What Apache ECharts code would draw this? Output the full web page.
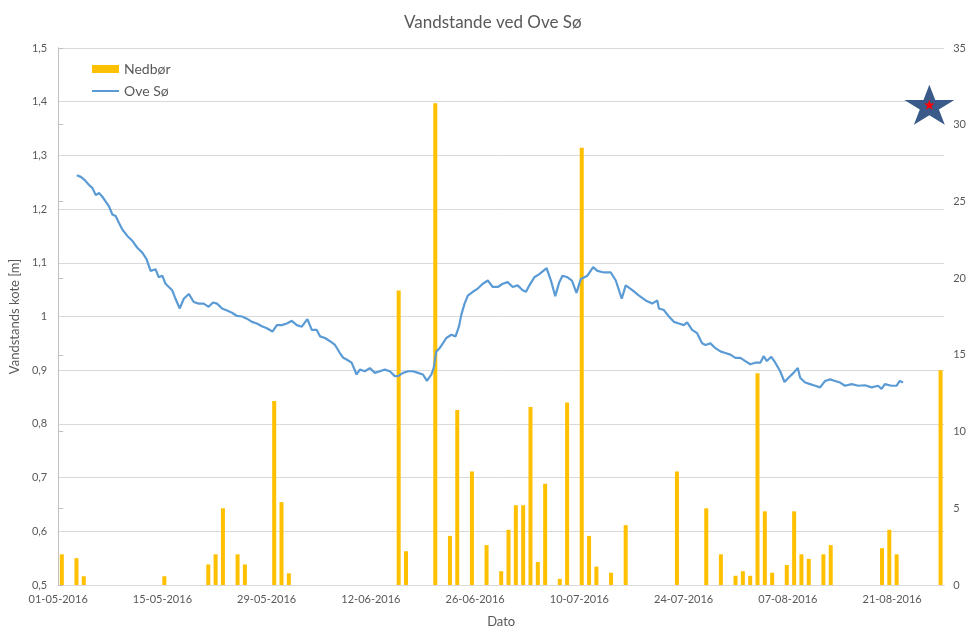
<!DOCTYPE html>
<html>
<head>
<meta charset="utf-8">
<script src="https://cdn.jsdelivr.net/npm/echarts@6/dist/echarts.min.js"></script>
<style>
  html, body { margin: 0; padding: 0; background: #fff; }
  #chart { width: 969px; height: 633px; }
</style>
</head>
<body>
<div id="chart"></div>
<script>
// x labels every 14 days, day 0 = 01-05-2016
const xTickLabels = ["01-05-2016", "15-05-2016", "29-05-2016", "12-06-2016", "26-06-2016", "10-07-2016", "24-07-2016", "07-08-2016", "21-08-2016"]
const leftTickLabels = ["0,5", "0,6", "0,7", "0,8", "0,9", "1", "1,1", "1,2", "1,3", "1,4", "1,5"]

// Nedbør (mm) - day index after 01-05-2016
const rainDay = [0, 2, 3, 14, 20, 21, 22, 24, 25, 29, 30, 31, 46, 47, 51, 53, 54, 56, 58, 60, 61, 62, 63, 64, 65, 66, 68, 69, 71, 72, 73, 75, 77, 84, 88, 90, 92, 93, 94, 95, 96, 97, 99, 100, 101, 102, 104, 105, 112, 113, 114, 120]
const rainMm = [2.0, 1.75, 0.57, 0.57, 1.34, 2.0, 5.0, 2.0, 1.34, 12.0, 5.4, 0.76, 19.2, 2.2, 31.4, 3.2, 11.4, 7.4, 2.6, 0.9, 3.6, 5.2, 5.2, 11.6, 1.5, 6.6, 0.4, 11.9, 28.5, 3.2, 1.2, 0.8, 3.9, 7.4, 5.0, 2.0, 0.6, 0.9, 0.6, 13.8, 4.8, 0.8, 1.3, 4.8, 2.0, 1.7, 2.0, 2.6, 2.4, 3.6, 2.0, 14.0]

// Ove Sø vandstand (m) - fractional days after 01-05-2016
const oveDay = [2.50, 3.04, 3.58, 4.15, 4.61, 5.05, 5.49, 5.94, 6.39, 6.83, 7.28, 7.72, 8.17, 8.62, 9.29, 9.96, 10.63, 11.30, 11.87, 12.41, 13.08, 13.52, 13.98, 14.42, 14.86, 15.31, 15.76, 16.33, 16.87, 17.54, 18.21, 18.88, 19.54, 20.21, 20.80, 21.34, 22.01, 22.68, 23.35, 24.02, 24.69, 25.35, 26.02, 26.69, 27.36, 28.03, 28.78, 29.37, 30.04, 30.71, 31.38, 32.05, 32.72, 33.47, 34.06, 34.73, 35.17, 35.84, 36.51, 37.18, 37.84, 38.29, 38.74, 39.41, 40.08, 40.52, 41.19, 41.86, 42.53, 43.20, 43.87, 44.54, 45.21, 45.65, 46.32, 46.99, 47.66, 48.33, 48.99, 49.53, 50.12, 50.43, 50.79, 51.23, 51.67, 52.13, 52.80, 53.37, 53.82, 54.14, 54.58, 55.02, 55.69, 56.36, 57.03, 57.70, 58.37, 59.04, 59.71, 60.37, 61.04, 61.71, 62.38, 62.84, 63.28, 63.95, 64.62, 65.60, 66.18, 66.76, 67.30, 67.74, 68.41, 69.00, 69.61, 70.20, 71.08, 71.85, 72.42, 73.32, 74.22, 74.89, 75.69, 76.22, 77.11, 78.01, 78.90, 79.79, 80.46, 80.68, 81.35, 82.02, 82.69, 83.36, 84.03, 84.47, 85.14, 85.81, 86.48, 86.93, 87.60, 88.27, 88.94, 89.61, 90.28, 90.95, 91.62, 92.29, 92.96, 93.63, 94.30, 94.74, 95.18, 95.77, 96.31, 96.97, 97.55, 98.09, 98.76, 99.33, 99.65, 100.32, 100.99, 101.66, 102.33, 103.00, 103.67, 104.34, 105.01, 105.68, 106.56, 107.46, 108.35, 109.24, 110.13, 110.58, 111.03, 111.91, 112.58, 113.03, 113.47]
const oveLevel = [1.263, 1.260, 1.254, 1.245, 1.239, 1.226, 1.230, 1.223, 1.214, 1.205, 1.190, 1.187, 1.174, 1.162, 1.150, 1.141, 1.128, 1.119, 1.107, 1.085, 1.088, 1.073, 1.076, 1.061, 1.055, 1.049, 1.033, 1.015, 1.033, 1.042, 1.027, 1.024, 1.024, 1.018, 1.026, 1.024, 1.015, 1.011, 1.007, 1.001, 1.000, 0.996, 0.990, 0.987, 0.982, 0.978, 0.972, 0.984, 0.984, 0.987, 0.992, 0.984, 0.981, 0.995, 0.975, 0.975, 0.963, 0.960, 0.954, 0.947, 0.932, 0.923, 0.920, 0.914, 0.892, 0.901, 0.898, 0.904, 0.895, 0.898, 0.901, 0.898, 0.889, 0.889, 0.895, 0.898, 0.898, 0.895, 0.892, 0.880, 0.892, 0.904, 0.935, 0.941, 0.950, 0.960, 0.966, 0.963, 0.981, 1.003, 1.024, 1.039, 1.046, 1.052, 1.061, 1.067, 1.055, 1.055, 1.061, 1.064, 1.055, 1.058, 1.049, 1.046, 1.058, 1.073, 1.079, 1.090, 1.067, 1.038, 1.064, 1.076, 1.073, 1.067, 1.044, 1.070, 1.076, 1.092, 1.085, 1.082, 1.082, 1.067, 1.033, 1.058, 1.049, 1.039, 1.030, 1.024, 1.030, 1.015, 1.012, 1.000, 0.990, 0.987, 0.984, 0.989, 0.975, 0.969, 0.950, 0.947, 0.950, 0.941, 0.935, 0.932, 0.929, 0.923, 0.923, 0.917, 0.911, 0.914, 0.914, 0.926, 0.917, 0.925, 0.914, 0.898, 0.878, 0.886, 0.895, 0.904, 0.886, 0.877, 0.874, 0.871, 0.868, 0.880, 0.883, 0.880, 0.877, 0.871, 0.874, 0.871, 0.872, 0.868, 0.871, 0.865, 0.874, 0.871, 0.871, 0.880, 0.877]

// star marker (day, mm on right axis)
const starAt = [117, 31.3]

const textColor = "#595959"
const fontFamily = "Lato, 'Noto Sans', sans-serif"
const starPath = "path://M50 0 L61.23 34.55 L97.55 34.55 L68.17 55.9 L79.39 90.45 L50 69.1 L20.61 90.45 L31.83 55.9 L2.45 34.55 L38.77 34.55 Z"

const chart = echarts.init(document.getElementById("chart"), null, { renderer: "canvas" })

const option = {
  animation: false,
  textStyle: { fontFamily: fontFamily },
  title: {
    text: "Vandstande ved Ove Sø",
    left: 399,
    top: 9,
    textStyle: { color: textColor, fontSize: 17, fontWeight: "normal", fontFamily: fontFamily }
  },
  legend: {
    data: [
      { name: "Nedbør", icon: "rect" },
      { name: "Ove Sø", itemStyle: { opacity: 0 } }
    ],
    orient: "vertical",
    left: 86,
    top: 57,
    itemWidth: 27,
    itemHeight: 8,
    itemGap: 8,
    textStyle: { color: textColor, fontSize: 14, fontFamily: fontFamily }
  },
  grid: {
    left: 57,
    right: 22,
    top: 48,
    bottom: 41.5,
    containLabel: false
  },
  xAxis: [
    {
      type: "value",
      min: 0,
      max: 119,
      interval: 14,
      name: "Dato",
      nameLocation: "middle",
      nameGap: 30,
      nameTextStyle: { color: textColor, fontSize: 13 },
      axisLine: { show: true, lineStyle: { color: "#d9d9d9" } },
      axisTick: { show: false },
      splitLine: { show: false },
      axisLabel: {
        color: textColor,
        fontSize: 11,
        margin: 9,
        showMaxLabel: false,
        formatter: function (v) {
          const i = v / 14
          return Number.isInteger(i) && xTickLabels[i] ? xTickLabels[i] : ""
        }
      }
    },
    {
      // one slot per day for the rain bars
      type: "value",
      min: 0,
      max: 121,
      show: false
    }
  ],
  yAxis: [
    {
      type: "value",
      min: 0.5,
      max: 1.5,
      interval: 0.1,
      name: "Vandstands kote [m]",
      nameLocation: "middle",
      nameGap: 31,
      nameTextStyle: { color: textColor, fontSize: 13 },
      axisLine: { show: true, lineStyle: { color: "#d9d9d9" } },
      axisTick: { show: false },
      splitLine: { lineStyle: { color: "#d9d9d9" } },
      axisLabel: {
        color: textColor,
        fontSize: 11,
        margin: 11,
        formatter: function (v) {
          return leftTickLabels[Math.round((v - 0.5) * 10)]
        }
      }
    },
    {
      type: "value",
      min: 0,
      max: 35,
      interval: 5,
      position: "right",
      axisLine: { show: true, lineStyle: { color: "#bfbfbf" } },
      axisTick: { show: true, length: 5, lineStyle: { color: "#bfbfbf" } },
      splitLine: { show: false },
      axisLabel: { color: textColor, fontSize: 11, margin: 9 }
    }
  ],
  series: [
    {
      name: "Ove Sø",
      type: "line",
      xAxisIndex: 0,
      yAxisIndex: 0,
      symbol: "none",
      color: "#5b9bd5",
      lineStyle: { width: 2.2, color: "#5b9bd5" },
      data: oveDay.map((d, i) => [d, oveLevel[i]])
    },
    {
      name: "Nedbør",
      type: "bar",
      xAxisIndex: 1,
      yAxisIndex: 1,
      barWidth: 4,
      color: "#ffc000",
      itemStyle: { color: "#ffc000" },
      data: rainDay.map((d, i) => [d + 0.5, rainMm[i]])
    },
    {
      name: "star",
      type: "scatter",
      xAxisIndex: 0,
      yAxisIndex: 1,
      silent: true,
      z: 5,
      data: [
        { value: starAt, symbol: starPath, symbolSize: [50, 40], itemStyle: { color: "#3a5b8a", opacity: 1 } },
        { value: starAt, symbol: starPath, symbolSize: [11, 10], itemStyle: { color: "#ff0000", opacity: 1 } }
      ]
    }
  ]
}

chart.setOption(option)
</script>
</body>
</html>
